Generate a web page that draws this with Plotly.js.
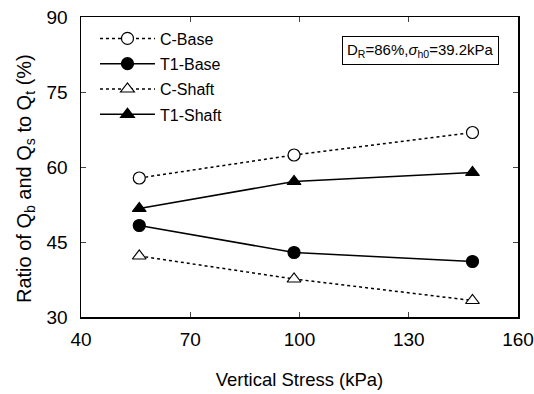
<!DOCTYPE html>
<html><head><meta charset="utf-8">
<script src="https://cdn.plot.ly/plotly-3.0.1.min.js"></script>
<style>body{margin:0;background:#fff}#chart{width:534px;height:394px}</style>
</head><body><div id="chart"></div>
<script>
const stress = [56, 98.5, 147.5];
const cBase = [57.8, 62.4, 66.9];
const t1Base = [48.3, 42.9, 41.1];
const cShaft = [42.2, 37.6, 33.3];
const t1Shaft = [51.7, 57.1, 58.9];
const xTicks = [40, 70, 100, 130, 160];
const yTicks = [30, 45, 60, 75, 90];

const F = 'Liberation Sans, Arial, sans-serif';
function tr(name, y, dash, sym, fill, grp){
  return {x: stress, y: y, name: name, type: 'scatter', mode: 'lines+markers', legendgroup: grp,
    line: {color: '#000', width: 1.5, dash: dash},
    marker: {symbol: sym, size: 12, color: fill, line: {color: '#000', width: 1.2}}};
}
const data = [
  tr('C-Base', cBase, 'dot', 'circle', '#fff', 'a'),
  tr('T1-Base', t1Base, 'solid', 'circle', '#000', 'b'),
  tr('C-Shaft', cShaft, 'dot', 'triangle-up', '#fff', 'c'),
  tr('T1-Shaft', t1Shaft, 'solid', 'triangle-up', '#000', 'd')
];

const layout = {
  width: 534, height: 394,
  margin: {l: 81, r: 16, t: 17, b: 77},
  paper_bgcolor: '#fff', plot_bgcolor: '#fff',
  font: {family: F, color: '#000', size: 18},
  showlegend: true,
  legend: {x: 0.032, y: 0.985, xanchor: 'left', yanchor: 'top', bgcolor: 'rgba(0,0,0,0)',
    font: {size: 16, family: F}, tracegroupgap: 1.5, itemwidth: 55},
  xaxis: {range: [40, 160], tickvals: xTicks, ticktext: xTicks.map(String),
    ticks: 'inside', ticklen: 5, showgrid: false, zeroline: false,
    showline: true, linecolor: '#000', linewidth: 1.5, mirror: 'ticks',
    tickfont: {size: 19, family: F}, ticklabelstandoff: 5,
    title: {text: 'Vertical Stress (kPa)', font: {size: 18.5, family: F}, standoff: 24}},
  yaxis: {range: [30, 90], tickvals: yTicks, ticktext: yTicks.map(String),
    ticks: 'inside', ticklen: 5, showgrid: false, zeroline: false,
    showline: true, linecolor: '#000', linewidth: 1.5, mirror: 'ticks',
    tickfont: {size: 19, family: F}, ticklabelstandoff: 8},
  annotations: [
    {xref: 'paper', yref: 'paper', x: -0.128, y: 0.46, xanchor: 'center', yanchor: 'middle', textangle: -90,
     text: 'Ratio of Q<sub>b</sub> and Q<sub>s</sub> to Q<sub>t</sub> (%)', showarrow: false,
     font: {size: 20, family: F}},
    {xref: 'paper', yref: 'paper', x: 0.778, y: 0.888, xanchor: 'center', yanchor: 'middle',
    text: 'D<sub>R</sub>=86%,<i>σ</i><sub>h0</sub>=39.2kPa', showarrow: false,
    font: {size: 15, family: F}, bordercolor: '#000', borderwidth: 1, borderpad: 4, bgcolor: '#fff'}]
};
Plotly.newPlot('chart', data, layout, {displayModeBar: false, staticPlot: true});
</script></body></html>
